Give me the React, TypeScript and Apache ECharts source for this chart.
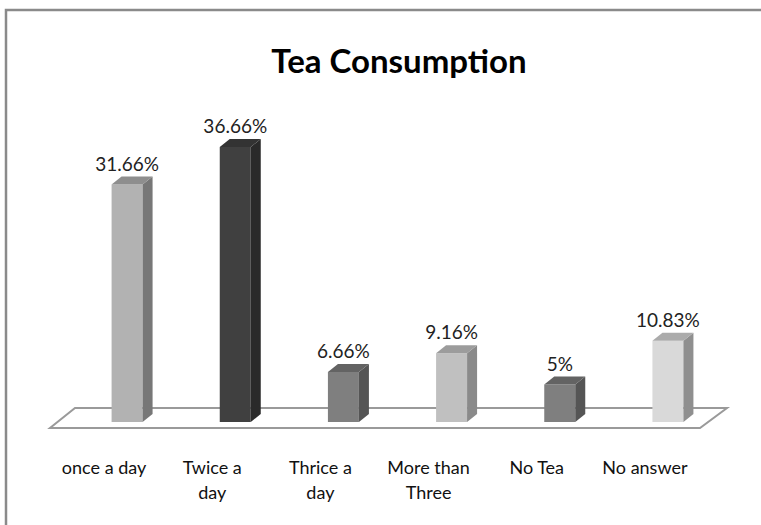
import React, { useEffect, useRef } from "react";
import * as echarts from "echarts";

const categories = ["once a day", "Twice a\nday", "Thrice a\nday", "More than\nThree", "No Tea", "No answer"];
const values = [31.66, 36.66, 6.66, 9.16, 5, 10.83];
const valueLabels = ["31.66%", "36.66%", "6.66%", "9.16%", "5%", "10.83%"];
const titleText = "Tea Consumption";

const frontColors = ["#b2b2b2", "#404040", "#7f7f7f", "#c0c0c0", "#7f7f7f", "#d9d9d9"];
const sideColors = ["#777777", "#2a2a2a", "#555555", "#8a8a8a", "#555555", "#8f8f8f"];
const topColors = ["#8e8e8e", "#333333", "#636363", "#9c9c9c", "#636363", "#ababab"];

const FONT = "Lato, 'Liberation Sans', sans-serif";

export default function App() {
  const ref = useRef<HTMLDivElement>(null);
  useEffect(() => {
    document.body.style.margin = "0";
    const chart = echarts.init(ref.current!, null, { renderer: "svg" });
    const bw = 31;
    const dx = 10;
    const dy = 8;
    const option: any = {
      animation: false,
      backgroundColor: "#ffffff",
      title: {
        text: titleText,
        left: 394,
        top: 38,
        textAlign: "center",
        textStyle: { fontFamily: FONT, fontSize: 33, fontWeight: "bold", color: "#000" },
      },
      grid: { left: 73, right: 39, top: 122, bottom: 103 },
      xAxis: {
        type: "category",
        data: categories,
        axisLine: { show: false },
        axisTick: { show: false },
        axisLabel: { show: false },
        splitLine: { show: false },
      },
      yAxis: { type: "value", min: 0, max: 40, show: false },
      graphic: [
        {
          type: "rect",
          shape: { x: 6, y: 10, width: 900, height: 700 },
          style: { fill: "none", stroke: "#8a8a8a", lineWidth: 2.5 },
          z: 0,
        },
      ],
      series: [
        {
          type: "custom",
          z: 1,
          silent: true,
          data: [[0, 0]],
          renderItem: (params: any, api: any) => {
            const cs = params.coordSys;
            const y0 = api.coord([0, 0])[1];
            const back = y0 - 14;
            const front = y0 + 6;
            return {
              type: "polygon",
              shape: {
                points: [
                  [cs.x + 2, back],
                  [cs.x + cs.width + 5, back],
                  [cs.x + cs.width - 22, front],
                  [cs.x - 23, front],
                ],
              },
              style: { fill: "#ffffff", stroke: "#9a9a9a", lineWidth: 2 },
            };
          },
        },
        {
          type: "custom",
          z: 2,
          data: values.map((v, i) => [i, v]),
          renderItem: (params: any, api: any) => {
            const i = api.value(0);
            const v = api.value(1);
            const [cx, yTop] = api.coord([i, v]);
            const y0 = api.coord([i, 0])[1];
            const l = cx - bw / 2;
            const r = cx + bw / 2;
            return {
              type: "group",
              children: [
                {
                  type: "rect",
                  shape: { x: l, y: yTop, width: bw, height: y0 - yTop },
                  style: { fill: frontColors[i] },
                },
                {
                  type: "polygon",
                  shape: { points: [[r, yTop], [r + dx, yTop - dy], [r + dx, y0 - dy], [r, y0]] },
                  style: { fill: sideColors[i] },
                },
                {
                  type: "polygon",
                  shape: { points: [[l, yTop], [l + dx, yTop - dy], [r + dx, yTop - dy], [r, yTop]] },
                  style: { fill: topColors[i] },
                },
                {
                  type: "text",
                  x: cx + 0,
                  y: yTop - dy - 4,
                  style: {
                    text: valueLabels[i],
                    fontFamily: FONT,
                    fontSize: 19,
                    fill: "#222222",
                    align: "center",
                    verticalAlign: "bottom",
                  },
                },
                {
                  type: "text",
                  x: cx - 23,
                  y: y0 + 32,
                  style: {
                    text: categories[i],
                    fontFamily: FONT,
                    fontSize: 18,
                    lineHeight: 25,
                    fill: "#111111",
                    align: "center",
                    verticalAlign: "top",
                  },
                },
              ],
            };
          },
        },
      ],
    };
    chart.setOption(option);
    return () => chart.dispose();
  }, []);
  return <div ref={ref} style={{ width: 761, height: 525, position: "absolute", left: 0, top: 0 }} />;
}
